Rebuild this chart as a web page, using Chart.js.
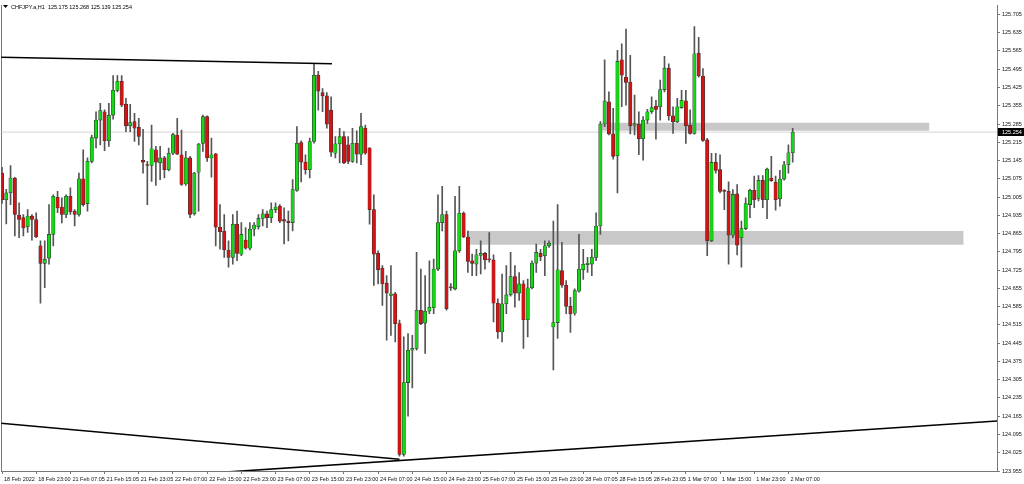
<!DOCTYPE html>
<html>
<head>
<meta charset="utf-8">
<title>CHFJPY H1</title>
<script src="https://cdn.jsdelivr.net/npm/chart.js@4.4.1/dist/chart.umd.min.js"></script>
<style>
    html, body { margin: 0; padding: 0; background: #fff; }
    canvas { display: block; }
</style>
</head>
<body>
<canvas id="chart" width="1024" height="484"></canvas>
<script>
const symbol = 'CHFJPY.a,H1';

// hourly candles, 18 Feb 2022 15:00 .. 2 Mar 2022 08:00
const opens = [
    125.097,124.995,125.021,125.078,124.936,124.926,124.891,124.932,124.919,124.818,
    124.751,124.771,124.862,125.004,124.967,124.938,125.008,124.951,124.938,125.075,
    124.980,125.142,125.231,125.300,125.332,125.221,125.319,125.414,125.449,125.361,
    125.278,125.294,125.272,125.146,125.129,125.126,125.186,125.136,125.155,125.110,
    125.173,125.243,125.167,125.055,125.155,124.941,125.100,125.211,125.313,125.155,
    125.171,124.890,124.875,124.802,124.774,124.901,124.786,124.840,124.809,124.882,
    124.891,124.923,124.941,124.926,124.957,124.970,124.919,124.913,124.907,125.030,
    125.214,125.139,125.110,125.218,125.472,125.405,125.393,125.338,125.173,125.209,
    125.237,125.205,125.142,125.211,125.169,125.269,125.193,124.957,124.789,124.733,
    124.675,124.628,124.634,124.520,124.019,124.294,124.418,124.425,124.571,124.522,
    124.568,124.581,124.729,124.907,124.938,124.659,124.653,124.799,124.943,124.852,
    124.761,124.748,124.781,124.789,124.767,124.764,124.598,124.488,124.596,124.630,
    124.700,124.637,124.672,124.535,124.657,124.752,124.789,124.780,124.818,124.507,
    124.524,124.723,124.667,124.586,124.560,124.644,124.726,124.746,124.748,124.774,
    124.894,125.285,125.370,125.247,125.163,125.531,125.465,125.446,125.281,125.284,
    125.228,125.300,125.332,125.354,125.351,125.417,125.499,125.316,125.294,125.348,
    125.374,125.281,125.249,125.557,125.469,125.224,124.837,125.138,125.110,125.030,
    125.027,124.859,125.017,124.849,124.884,124.976,125.031,125.000,125.069,124.995,
    125.078,125.062,124.998,125.074,125.129,125.175
];
const highs = [
    125.119,125.035,125.126,125.081,124.983,124.938,124.957,124.938,124.945,124.837,
    124.837,124.976,125.014,125.027,125.002,125.014,125.040,124.957,125.097,125.186,
    125.155,125.243,125.332,125.364,125.339,125.364,125.471,125.471,125.471,125.383,
    125.360,125.326,125.307,125.265,125.142,125.281,125.199,125.199,125.161,125.193,
    125.249,125.307,125.262,125.180,125.161,125.100,125.211,125.319,125.316,125.231,
    125.173,124.976,124.938,124.837,124.938,124.951,124.907,124.888,124.907,124.907,
    124.938,124.957,124.951,124.983,124.983,124.976,124.964,124.951,125.072,125.275,
    125.221,125.167,125.231,125.516,125.487,125.421,125.405,125.389,125.237,125.268,
    125.256,125.237,125.268,125.259,125.326,125.281,125.195,125.014,124.799,124.742,
    124.704,124.742,124.640,124.533,124.469,124.482,124.475,124.793,124.729,124.704,
    124.761,124.767,125.014,125.046,124.951,124.673,125.008,125.046,124.948,124.875,
    124.786,124.805,124.837,124.793,124.869,124.784,124.615,124.710,124.742,124.793,
    124.742,124.716,124.685,124.691,124.761,124.825,124.805,124.837,124.837,124.913,
    124.976,124.831,124.685,124.621,124.653,124.862,124.805,124.774,124.805,124.945,
    125.294,125.531,125.408,125.345,125.567,125.592,125.649,125.548,125.396,125.332,
    125.313,125.341,125.389,125.376,125.453,125.544,125.516,125.351,125.383,125.414,
    125.414,125.339,125.658,125.617,125.497,125.230,125.173,125.173,125.167,125.034,
    125.063,125.034,125.053,124.913,125.002,125.036,125.085,125.087,125.087,125.116,
    125.161,125.085,125.107,125.142,125.205,125.268
];
const lows = [
    124.981,124.902,124.976,124.856,124.849,124.856,124.869,124.840,124.849,124.598,
    124.658,124.748,124.818,124.945,124.906,124.926,124.938,124.894,124.932,124.970,
    124.951,125.136,125.193,125.205,125.183,125.199,125.304,125.408,125.351,125.256,
    125.256,125.218,125.205,125.097,124.976,125.065,125.050,125.072,125.078,125.105,
    125.167,125.167,125.050,125.050,124.926,124.936,124.951,125.180,125.142,125.081,
    124.818,124.805,124.774,124.736,124.748,124.761,124.780,124.805,124.802,124.856,
    124.882,124.894,124.888,124.907,124.945,124.907,124.825,124.837,124.875,125.027,
    125.063,125.093,125.078,125.212,125.338,125.332,125.269,125.161,125.155,125.136,
    125.133,125.133,125.138,125.136,125.129,125.168,124.901,124.666,124.672,124.590,
    124.456,124.475,124.450,124.012,124.012,124.165,124.273,124.418,124.516,124.406,
    124.558,124.558,124.723,124.875,124.571,124.647,124.649,124.793,124.849,124.716,
    124.704,124.704,124.710,124.729,124.755,124.526,124.463,124.450,124.558,124.625,
    124.583,124.609,124.425,124.469,124.653,124.716,124.761,124.704,124.812,124.342,
    124.463,124.659,124.558,124.486,124.552,124.640,124.689,124.716,124.704,124.761,
    124.862,125.275,125.243,125.150,125.021,125.351,125.357,125.247,125.243,125.167,
    125.146,125.287,125.326,125.227,125.300,125.408,125.300,125.249,125.290,125.345,
    125.211,125.246,125.246,125.465,125.218,124.780,124.834,125.097,125.021,124.957,
    124.748,124.849,124.783,124.736,124.880,124.926,124.964,124.990,124.964,124.922,
    125.065,124.955,124.970,125.070,125.097,125.139
];
const closes = [
    124.995,125.021,125.078,124.938,124.919,124.887,124.932,124.919,124.852,124.751,
    124.767,124.862,125.008,124.963,124.938,125.008,124.948,124.938,125.075,124.976,
    125.142,125.233,125.300,125.336,125.221,125.319,125.414,125.449,125.357,125.278,
    125.290,125.269,125.237,125.139,125.126,125.190,125.139,125.155,125.110,125.173,
    125.244,125.169,125.053,125.155,124.938,125.097,125.208,125.313,125.155,125.167,
    124.890,124.872,124.802,124.774,124.901,124.789,124.862,124.809,124.882,124.898,
    124.923,124.941,124.926,124.957,124.967,124.913,124.913,124.907,125.034,125.211,
    125.139,125.110,125.218,125.472,125.411,125.393,125.284,125.177,125.209,125.237,
    125.136,125.142,125.211,125.169,125.275,125.173,124.957,124.786,124.726,124.672,
    124.637,124.634,124.520,124.019,124.294,124.418,124.425,124.571,124.520,124.567,
    124.583,124.729,124.907,124.938,124.577,124.657,124.799,124.943,124.852,124.758,
    124.751,124.784,124.789,124.764,124.764,124.598,124.488,124.596,124.630,124.700,
    124.637,124.672,124.535,124.657,124.752,124.793,124.776,124.818,124.828,124.524,
    124.726,124.667,124.586,124.558,124.647,124.729,124.748,124.751,124.774,124.894,
    125.285,125.373,125.247,125.161,125.525,125.472,125.444,125.278,125.287,125.228,
    125.300,125.332,125.348,125.341,125.417,125.499,125.316,125.294,125.351,125.376,
    125.279,125.249,125.554,125.469,125.222,124.837,125.138,125.107,125.027,125.027,
    124.859,125.015,124.821,124.884,124.980,125.031,124.995,125.069,124.995,125.112,
    125.068,124.995,125.074,125.129,125.175,125.254
];

// time axis: a label every 8 bars
const xTickIdx = [0,8,16,24,32,40,48,56,64,72,80,88,96,104,112,120,128,136,144,152,160,168,176,184];
const xTickLabels = [
    '18 Feb 2022','18 Feb 23:00','21 Feb 07:05','21 Feb 15:05','21 Feb 23:05','22 Feb 07:00',
    '22 Feb 15:00','22 Feb 23:00','23 Feb 07:00','23 Feb 15:00','23 Feb 23:00','24 Feb 07:00',
    '24 Feb 15:00','24 Feb 23:00','25 Feb 07:00','25 Feb 15:00','25 Feb 23:00','28 Feb 07:05',
    '28 Feb 15:05','28 Feb 23:05','1 Mar 07:00','1 Mar 15:00','1 Mar 23:00','2 Mar 07:00'
];
const yTicks = [
    123.955,124.025,124.095,124.165,124.235,124.305,124.375,124.445,124.515,124.585,
    124.655,124.725,124.795,124.865,124.935,125.005,125.075,125.145,125.215,125.285,
    125.355,125.425,125.495,125.565,125.635,125.705
];

// drawn objects: trend lines (bar index, price) and zones
const topLineX = [-0.4, 77.2];
const topLineY = [125.541, 125.516];
const lowLeftX = [-0.4, 93];
const lowLeftY = [124.138, 124.000];
const lowRightX = [45, 233];
const lowRightY = [123.943, 124.147];
const supportX = [109, 225];
const supportY = [124.875, 124.822];
const resistX = [140.3, 217];
const resistY = [125.290, 125.259];
const bid = 125.254;

const xMin = -0.164, xMax = 232.8;
const yMin = 123.955, yMax = 125.740;

Chart.defaults.font.family = '"Liberation Sans", Arial, sans-serif';
Chart.defaults.font.size = 5.5;
Chart.defaults.color = '#111';

function lineSet(xs, ys, color, width, order) {
    return {
        type: 'line',
        data: xs.map((x, i) => ({x: x, y: ys[i]})),
        borderColor: color,
        borderWidth: width,
        pointRadius: 0,
        fill: false,
        tension: 0,
        order: order
    };
}

function zoneSets(xs, ys) {
    const top = lineSet(xs, [ys[0], ys[0]], 'rgba(0,0,0,0)', 0, 10);
    const bottom = lineSet(xs, [ys[1], ys[1]], 'rgba(0,0,0,0)', 0, 10);
    bottom.fill = '-1';
    bottom.backgroundColor = '#c8c8c8';
    return [top, bottom];
}

const overlay = {
    id: 'overlay',
    afterDraw(chart) {
        const c = chart.ctx;
        const ys = chart.scales.y;
        const py = ys.getPixelForValue(bid);
        const last = opens.length - 1;
        c.save();
        c.font = '5.5px "Liberation Sans", Arial, sans-serif';
        c.textBaseline = 'middle';
        c.fillStyle = '#000';
        c.fillRect(ys.left + 1, Math.round(py) - 4, 26, 8);
        c.fillStyle = '#fff';
        c.fillText(bid.toFixed(3), ys.left + 5, Math.round(py));
        c.fillStyle = '#000';
        c.beginPath();
        c.moveTo(3, 5);
        c.lineTo(8, 5);
        c.lineTo(5.5, 8);
        c.closePath();
        c.fill();
        const ohlc = [opens[last], highs[last], lows[last], closes[last]].map(v => v.toFixed(3)).join(' ');
        c.fillText(symbol + '  ' + ohlc, 11, 7);
        c.restore();
    }
};

function setup() {
    const idx = opens.map((_, i) => i);
    const wicks = idx.map(i => ({x: i, y: [lows[i], highs[i]]}));
    const bodies = idx.map(i => ({x: i, y: [opens[i], closes[i]]}));
    const bodyColors = idx.map(i => closes[i] >= opens[i] ? '#14d814' : '#d41414');

    const datasets = [
        ...zoneSets(resistX, resistY),
        ...zoneSets(supportX, supportY),
        lineSet([xMin, xMax], [bid, bid], '#d4d4d4', 1, 9),
        {
            type: 'bar', data: wicks, backgroundColor: '#555', borderWidth: 0,
            barThickness: 1, grouped: false, order: 3
        },
        {
            type: 'bar', data: bodies, backgroundColor: bodyColors, borderColor: '#333',
            borderWidth: 0.6, borderSkipped: false, barThickness: 3.4, minBarLength: 1,
            grouped: false, order: 2
        },
        lineSet(topLineX, topLineY, '#000', 1.6, 1),
        lineSet(lowLeftX, lowLeftY, '#000', 1.6, 1),
        lineSet(lowRightX, lowRightY, '#000', 1.6, 1)
    ];

    new Chart(document.getElementById('chart'), {
        type: 'bar',
        data: { datasets: datasets },
        options: {
            responsive: false,
            animation: false,
            devicePixelRatio: 1,
            layout: { padding: { top: 2, left: 0, right: 0, bottom: 0 } },
            plugins: { legend: { display: false }, tooltip: { enabled: false } },
            scales: {
                x: {
                    type: 'linear', min: xMin, max: xMax, offset: false,
                    grid: { offset: false, drawOnChartArea: false, tickLength: 3, color: '#777' },
                    border: { color: '#777' },
                    afterBuildTicks: s => { s.ticks = xTickIdx.map(v => ({value: v})); },
                    afterFit: s => { s.height = 13; },
                    ticks: {
                        autoSkip: false, maxRotation: 0, align: 'start', labelOffset: 2, padding: 2,
                        callback: (v, i) => xTickLabels[i]
                    }
                },
                y: {
                    position: 'right', min: yMin, max: yMax,
                    grid: { drawOnChartArea: false, tickLength: 3, color: '#777' },
                    border: { color: '#777' },
                    afterBuildTicks: s => { s.ticks = yTicks.map(v => ({value: v})); },
                    afterFit: s => { s.width = 27; },
                    ticks: { autoSkip: false, padding: 2, callback: v => v.toFixed(3) }
                },
                yl: {
                    position: 'left', min: yMin, max: yMax,
                    grid: { drawOnChartArea: false, drawTicks: false },
                    border: { color: '#777' },
                    ticks: { display: false },
                    afterFit: s => { s.width = 1; }
                }
            }
        },
        plugins: [overlay]
    });
}

window.onload = setup;
</script>
</body>
</html>
